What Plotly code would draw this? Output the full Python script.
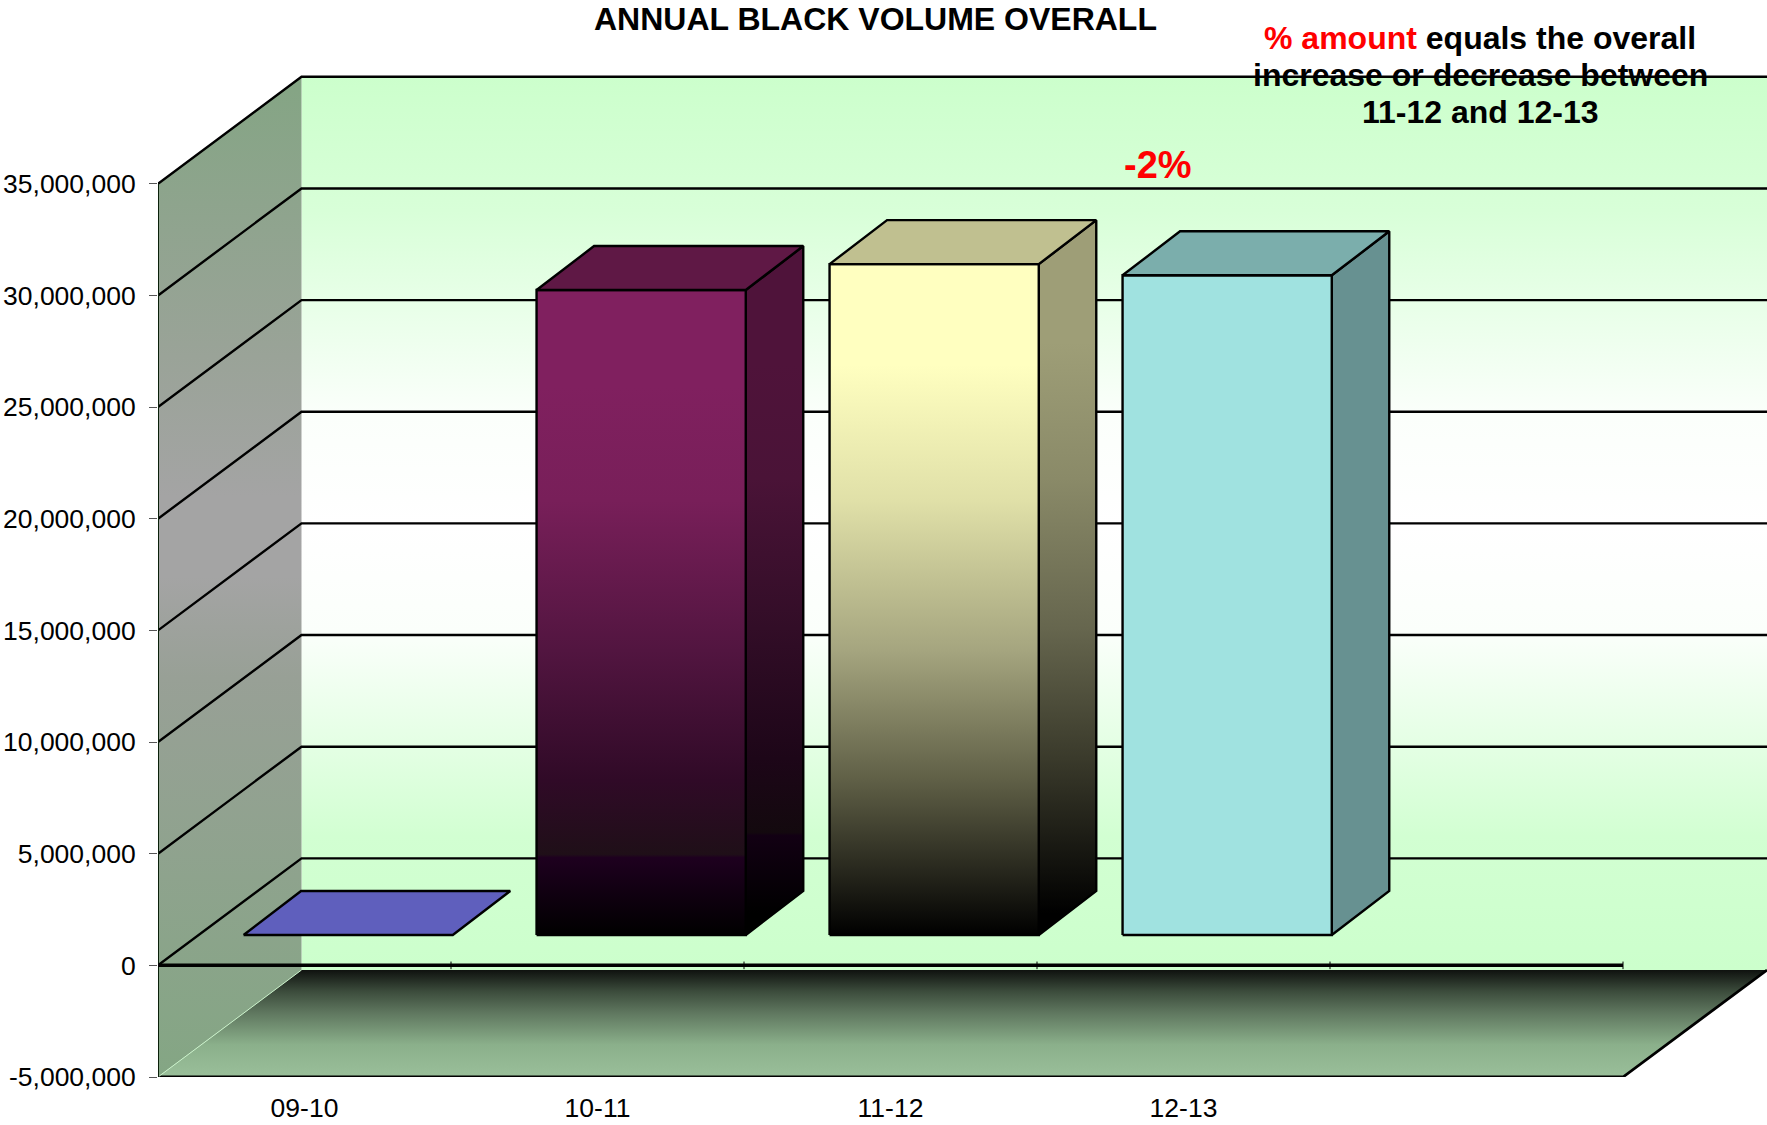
import plotly.graph_objects as go

categories = ["09-10", "10-11", "11-12", "12-13"]
values = [0, 28880000, 30040000, 29540000]
y_ticks = [-5000000, 0, 5000000, 10000000, 15000000, 20000000, 25000000, 30000000, 35000000]
y_tick_labels = ["-5,000,000", "0", "5,000,000", "10,000,000", "15,000,000", "20,000,000",
                 "25,000,000", "30,000,000", "35,000,000"]
category_slots = 5

FULL_W, FULL_H = 1767, 1125
L, B = 158, 48
PX_PER_5M = 111.65
PX_PER_CAT = 293.0
W = FULL_W - L
H = FULL_H - B
Y_MIN = -5e6
Y_MAX = Y_MIN + H / PX_PER_5M * 5e6
X_MAX = W / PX_PER_CAT

# oblique projection of the 3-D box, expressed in axis units
WALL_DX, WALL_DY = 143.5 / PX_PER_CAT, 107.0 / PX_PER_5M * 5e6
BAR_DX, BAR_DY = 57.5 / PX_PER_CAT, 44.0 / PX_PER_5M * 5e6
BAR_LEFT, BAR_WIDTH = 0.292, 0.714
BAR_BASE = 30.4 / PX_PER_5M * 5e6
TOP, BOTTOM = 35e6, -5e6

fig = go.Figure()


def poly(xs, ys, fill=None, grad=None, start=None, stop=None, line="rgba(0,0,0,0)", width=0):
    kw = dict(x=list(xs) + [xs[0]], y=list(ys) + [ys[0]], mode="lines", fill="toself",
              line=dict(color=line, width=width), hoverinfo="skip", showlegend=False)
    if grad:
        kw["fillgradient"] = dict(type="vertical", colorscale=grad, start=start, stop=stop)
    else:
        kw["fillcolor"] = fill
    fig.add_trace(go.Scatter(**kw))


def seg(xs, ys, width=2, color="#000000"):
    fig.add_trace(go.Scatter(x=xs, y=ys, mode="lines", line=dict(color=color, width=width),
                             hoverinfo="skip", showlegend=False, cliponaxis=False))


def dim(scale, k=0.62):
    out = []
    for pos, c in scale:
        r, g, b = int(c[1:3], 16), int(c[3:5], 16), int(c[5:7], 16)
        out.append([pos, "#%02X%02X%02X" % (int(r * k), int(g * k), int(b * k))])
    return out


back_x0, back_x1 = WALL_DX, X_MAX
back_top, back_bot = TOP + WALL_DY, BOTTOM + WALL_DY

# back wall
wall_grad = [[0, "#CCFFCC"], [0.15, "#D2FFD2"], [0.38, "#FBFFFB"], [0.5, "#FFFFFF"], [0.62, "#FBFFFB"],
             [0.85, "#D8FFD8"], [1, "#CCFFCC"]]
poly([back_x0, back_x1, back_x1, back_x0], [back_top, back_top, back_bot, back_bot],
     grad=wall_grad, start=back_bot, stop=back_top)
# left wall
side_grad = [[0, "#84A684"], [0.4, "#98A096"], [0.5, "#A4A4A4"], [0.58, "#A4A4A4"], [0.72, "#9AA398"],
             [1, "#84A584"]]
poly([0, back_x0, back_x0, 0], [TOP, back_top, back_bot, BOTTOM],
     grad=side_grad, start=BOTTOM, stop=back_top)

# gridlines
for t in y_ticks[1:]:
    seg([0, back_x0, back_x1], [t, t + WALL_DY, t + WALL_DY], width=2.4)

# floor
floor_grad = [[0, "#9ABF9A"], [0.3, "#8BB08B"], [0.6, "#5F775F"], [0.8, "#3C4C3C"], [1, "#0F120F"]]
poly([0, category_slots, back_x1, back_x0], [BOTTOM, BOTTOM, back_bot, back_bot],
     grad=floor_grad, start=BOTTOM, stop=back_bot)
seg([0, category_slots, back_x1], [BOTTOM, BOTTOM, back_bot], width=2.8)
seg([0, back_x0], [BOTTOM, back_bot], width=1, color="#C8F0C8")

# vertical axis line and the zero line with its ticks
seg([0, 0], [BOTTOM, TOP], width=2, color="#0A200A")
seg([0, category_slots], [0, 0], width=3.5)
for i in range(1, category_slots + 1):
    seg([i, i], [-170000, 170000], width=1)

# bars
purple = [[0, "#000000"], [0.12, "#1E001F"], [0.125, "#1F0F18"], [0.24, "#300A27"], [0.441, "#521540"],
          [0.673, "#781F59"], [0.85, "#80205F"], [1, "#80205F"]]
cream = [[0, "#000000"], [0.23, "#5F5F46"], [0.424, "#A5A57F"], [0.647, "#E0E0A8"], [0.85, "#FFFFC0"],
         [1, "#FFFFC0"]]
front_styles = [("#5F5FBD", None), (None, purple), (None, cream), ("#A0E2E0", None)]
side_styles = [("#30305E", None), (None, dim(purple)), (None, dim(cream)), ("#679191", None)]
top_colors = ["#5F5FBD", "#5F1845", "#C0C090", "#7BAEAC"]

for i, v in enumerate(values):
    x0 = i + BAR_LEFT
    x1 = x0 + BAR_WIDTH
    y0 = BAR_BASE
    y1 = BAR_BASE + v
    if v > 0:
        c, g = side_styles[i]
        poly([x1, x1 + BAR_DX, x1 + BAR_DX, x1], [y0, y0 + BAR_DY, y1 + BAR_DY, y1],
             fill=c, grad=g, start=y0 + BAR_DY / 2, stop=y1 + BAR_DY / 2, line="#000000", width=2.4)
        c, g = front_styles[i]
        poly([x0, x1, x1, x0], [y0, y0, y1, y1], fill=c, grad=g, start=y0, stop=y1,
             line="#000000", width=2.4)
    poly([x0, x1, x1 + BAR_DX, x0 + BAR_DX], [y1, y1, y1 + BAR_DY, y1 + BAR_DY],
         fill=top_colors[i], line="#000000", width=2.4)


def px(x):
    return (x - L) / W


def py(y):
    return (FULL_H - B - y) / H


def label(x, y, text, size, color="#000000"):
    fig.add_annotation(x=px(x), y=py(y), text=text, xref="paper", yref="paper", showarrow=False,
                       xanchor="center", yanchor="middle",
                       font=dict(family="Liberation Sans, Arial", color=color, size=size))


label(875, 19, "<b>ANNUAL BLACK VOLUME OVERALL</b>", 32)
label(1480, 38, '<b><span style="color:#FF0000">% amount</span> equals the overall</b>', 32)
label(1480, 75, "<b>increase or decrease between</b>", 32)
label(1480, 112, "<b>11-12 and 12-13</b>", 32)
label(1158, 165, "<b>-2%</b>", 38, "#FF0000")

fig.update_layout(
    width=FULL_W, height=FULL_H, autosize=False,
    margin=dict(l=L, r=0, t=0, b=B, pad=0),
    paper_bgcolor="#FFFFFF", plot_bgcolor="#FFFFFF", showlegend=False,
    font=dict(family="Liberation Sans, Arial", size=26.5, color="#000000"),
    xaxis=dict(range=[0, X_MAX], tickmode="array", tickvals=[i + 0.5 for i in range(len(categories))],
               ticktext=categories, ticks="", showgrid=False, zeroline=False, showline=False,
               fixedrange=True, ticklabelstandoff=12),
    yaxis=dict(range=[Y_MIN, Y_MAX], tickmode="array", tickvals=y_ticks, ticktext=y_tick_labels,
               ticks="outside", ticklen=8, tickwidth=1, tickcolor="#555555", showgrid=False,
               zeroline=False, showline=False, fixedrange=True, ticklabelstandoff=8),
)
fig.write_html("out.html", config=dict(displayModeBar=False),
               post_script="document.body.style.margin='0';document.documentElement.style.overflow='hidden';")
